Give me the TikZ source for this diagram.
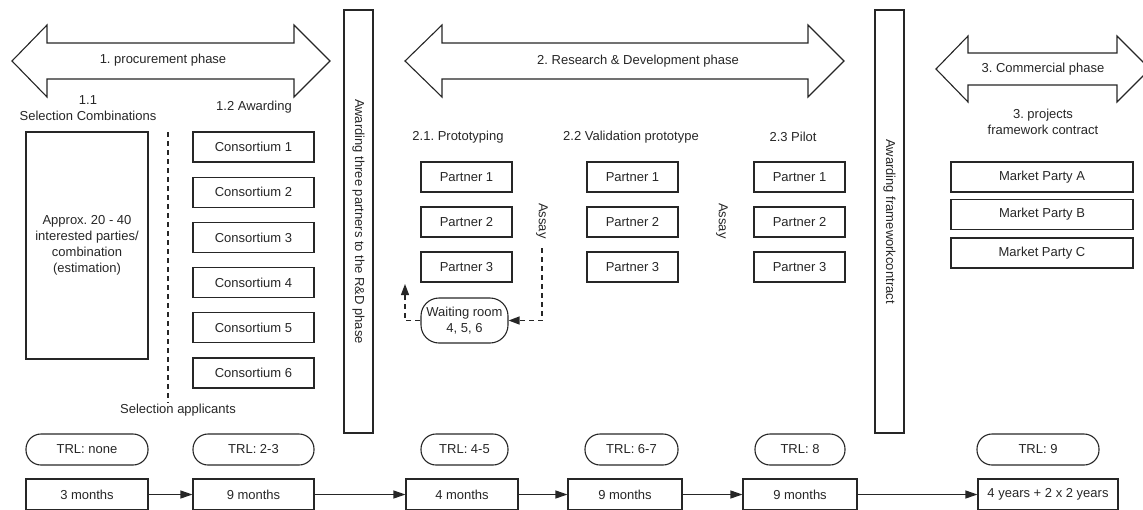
\documentclass[tikz,border=0pt]{standalone}
\usepackage{fontspec}
\setmainfont{Liberation Sans}
\usetikzlibrary{arrows.meta}
\frenchspacing
\begin{document}
\begin{tikzpicture}[x=1pt,y=-1pt,
  every node/.style={font=\fontsize{13}{16}\selectfont, text=black!85, inner sep=0pt},
  box/.style={draw=black!85, line width=1.1pt, minimum height=30pt, align=center},
  pill/.style={draw=black!85, line width=1.1pt, minimum height=31pt, rounded corners=15pt},
  phase/.style={draw=black!85, line width=1.1pt, fill=white},
  bar/.style={draw=black!85, line width=1.1pt, minimum width=423pt, minimum height=29pt, rotate=-90},
  lbl/.style={align=center},
  flow/.style={draw=black!85, line width=1.1pt, -{Triangle[length=12pt,width=8pt]}},
  dashflow/.style={draw=black!85, line width=1.2pt, dash pattern=on 5pt off 4pt, -{Triangle[length=11pt,width=8pt]}},
  sepline/.style={draw=black!85, line width=1.2pt, dash pattern=on 5pt off 4pt}
]
\useasboundingbox (0,0) rectangle (1143,509);

% phase arrows
\draw[phase] (12,61) -- (47,25) -- (47,43) -- (294,43) -- (294,25) -- (330,61) -- (294,97) -- (294,79) -- (47,79) -- (47,97) -- cycle;
\node (ph1) at (163,60) {1. procurement phase};
\draw[phase] (405,61) -- (442,25) -- (442,43) -- (808,43) -- (808,25) -- (844,61) -- (808,97) -- (808,79) -- (442,79) -- (442,97) -- cycle;
\node (ph2) at (638,61) {2. Research \& Development phase};
\draw[phase] (936,69) -- (968,36) -- (968,53) -- (1117,53) -- (1117,36) -- (1150,69) -- (1117,102) -- (1117,85) -- (968,85) -- (968,102) -- cycle;
\node (ph3) at (1043,69) {3. Commercial phase};

% vertical bars
\node[bar] (bar1) at (358.5,221.5) {Awarding three partners to the R\&D phase};
\node[bar] (bar2) at (889.5,221.5) {Awarding frameworkcontract};

% section 1
\node[lbl] (h11) at (88,108) {1.1\\Selection Combinations};
\node (h12) at (254,107) {1.2 Awarding};
\node[box, minimum width=122pt, minimum height=227pt] (pool) at (87,245.5) {Approx. 20 - 40\\interested parties/\\combination\\(estimation)};
\coordinate (sepT) at (168,132);
\coordinate (sepB) at (168,403);
\draw[sepline] (sepT) -- (sepB);
\node (selapp) at (178,410) {Selection applicants};
\foreach \i in {1,...,6}
  \node[box, minimum width=121pt] (c\i) at (253.5,{147+45.2*(\i-1)}) {Consortium \i};

% section 2
\node (h21) at (458,137) {2.1. Prototyping};
\node (h22) at (631,137) {2.2 Validation prototype};
\node (h23) at (793,137) {2.3 Pilot};
\foreach \c/\x in {a/466.5,b/632.5,c/799.5}
  \foreach \r/\y in {1/177,2/222,3/267}
    \node[box, minimum width=91pt] (p\c\r) at (\x,\y) {Partner \r};
\node[draw=black!85, line width=1.1pt, rounded corners=18pt, minimum width=87pt, minimum height=45pt, align=center] (wait) at (464.5,320.5) {Waiting room\\4, 5, 6};
\node[rotate=-90] (as1) at (542,221) {Assay};
\node[rotate=-90] (as2) at (722,221) {Assay};
\coordinate (d1) at (542,248);
\draw[dashflow] (d1) |- (wait.east);
\coordinate (d2) at (405,284);
\draw[dashflow] (wait.west) -| (d2);

% section 3
\node[lbl] (h3) at (1043,122) {3. projects\\framework contract};
\node[box, minimum width=182pt] (mA) at (1042,177) {Market Party A};
\node[box, minimum width=182pt] (mB) at (1042,214.5) {Market Party B};
\node[box, minimum width=182pt] (mC) at (1042,253) {Market Party C};

% TRL pills
\node[pill, minimum width=122pt] (t1) at (87,449.5) {TRL: none};
\node[pill, minimum width=121pt] (t2) at (253.5,449.5) {TRL: 2-3};
\node[pill, minimum width=87pt] (t3) at (464.5,449.5) {TRL: 4-5};
\node[pill, minimum width=93pt] (t4) at (631.5,449.5) {TRL: 6-7};
\node[pill, minimum width=90pt] (t5) at (800,449.5) {TRL: 8};
\node[pill, minimum width=122pt] (t6) at (1038,449.5) {TRL: 9};

% durations
\node[box, minimum width=122pt, minimum height=31pt] (m1) at (87,494.5) {3 months};
\node[box, minimum width=121pt, minimum height=31pt] (m2) at (253.5,494.5) {9 months};
\node[box, minimum width=112pt, minimum height=31pt] (m3) at (462,494.5) {4 months};
\node[box, minimum width=114pt, minimum height=31pt] (m4) at (625,494.5) {9 months};
\node[box, minimum width=114pt, minimum height=31pt] (m5) at (800,494.5) {9 months};
\node[box, minimum width=140pt, minimum height=31pt] (m6) at (1048,494.5) {4 years + 2 x 2 years};
\draw[flow] (m1.east) -- (m2.west);
\draw[flow] (m2.east) -- (m3.west);
\draw[flow] (m3.east) -- (m4.west);
\draw[flow] (m4.east) -- (m5.west);
\draw[flow] (m5.east) -- (m6.west);
\end{tikzpicture}
\end{document}
